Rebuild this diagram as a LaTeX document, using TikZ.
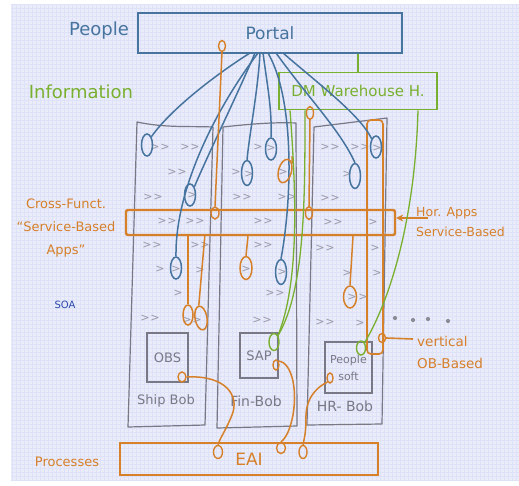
\documentclass[tikz,border=0pt]{standalone}
\usepackage{fontspec}
\setmainfont{DejaVu Sans}
\usetikzlibrary{shapes.geometric,arrows.meta}
\definecolor{bgC}{RGB}{234,236,250}
\definecolor{gridC}{RGB}{222,226,248}
\definecolor{blueC}{RGB}{70,116,158}
\definecolor{greenC}{RGB}{122,176,48}
\definecolor{orangeC}{RGB}{214,128,42}
\definecolor{grayC}{RGB}{120,120,135}
\definecolor{chevC}{RGB}{152,152,168}
\definecolor{soaC}{RGB}{40,70,170}
\newcommand{\myfs}[2]{\fontsize{#1}{#2}\selectfont}
\newcommand{\chevtwo}{>\kern1pt\relax>}
\begin{document}
\begin{tikzpicture}[x=1pt,y=-1pt,
  bloop/.style={ellipse, draw=blueC, line width=1.5pt, inner sep=0pt, minimum width=11pt, minimum height=22pt},
  oloop/.style={ellipse, draw=orangeC, line width=1.5pt, inner sep=0pt, minimum width=11pt, minimum height=21pt},
  osmall/.style={ellipse, draw=orangeC, line width=1.4pt, inner sep=0pt, minimum width=7pt, minimum height=11pt},
  gloop/.style={ellipse, draw=greenC, line width=1.4pt, inner sep=0pt, minimum width=10pt, minimum height=16pt},
  bline/.style={draw=blueC, line width=1.5pt},
  oline/.style={draw=orangeC, line width=1.5pt},
  gline/.style={draw=greenC, line width=1.3pt},
  colshape/.style={draw=grayC, line width=1.2pt, line join=round},
  chev/.style={inner sep=0pt, text=chevC, font=\myfs{11}{11}},
  dotc/.style={circle, fill=grayC!85, inner sep=0pt, minimum size=4.2pt},
  olbl/.style={text=orangeC, inner sep=0pt},
  glbl/.style={text=grayC, inner sep=0pt}
]
\useasboundingbox (0,0) rectangle (519,485);
\fill[bgC] (11,4) rectangle (519,481);
\draw[gridC, line width=0.4pt, step=4pt] (11,4) grid (519,481);

% columns
\draw[colshape] (137,122) .. controls (165,128) and (190,126) .. (213,127) -- (205,425) -- (128,427) -- cycle;
\draw[colshape] (223,127) .. controls (250,124) and (275,122) .. (296,123) -- (297,426) -- (217,428) -- cycle;
\draw[colshape] (314,127) -- (387,118) -- (382,424) -- (307,425) -- cycle;

% chevrons (2 = double, 1 = single)
\foreach \px/\py/\n [count=\i] in {
 160/147/2, 190/147/2, 177/172/2, 153/197/2, 192/195/1, 167/221/2, 195/221/2,
 152/245/2, 200/245/2, 160/269/1, 176/269/1, 200/270/1, 178/293/1, 150/318/2, 192/320/2,
 258/147/1, 271/148/1, 236/172/1, 249/174/1, 283/172/1, 242/197/2, 287/197/2, 263/221/2,
 263/245/2, 246/269/1, 282/272/1, 275/293/2, 262/320/2,
 330/147/2, 360/147/2, 377/148/1, 347/174/1, 330/198/2, 333/222/2, 373/222/1,
 325/248/2, 375/248/1, 347/273/1, 377/273/1, 352/297/1, 363/297/1, 325/322/2, 360/323/1}
  \node[chev] (ch\i) at (\px,\py) {\ifnum\n=2 \chevtwo\else >\fi};

% Portal and people
\node[draw=blueC, line width=1.5pt, minimum width=264pt, minimum height=40pt, inner sep=0pt,
      text=blueC, font=\myfs{17}{20}] (portal) at (270,33) {Portal};
\node[text=blueC, inner sep=0pt, font=\myfs{18}{21}] (people) at (99,31) {People};
\node[text=greenC, inner sep=0pt, font=\myfs{18}{21}] (info) at (81,92) {Information};
\node[draw=greenC, line width=1.6pt, minimum width=158pt, minimum height=37pt, inner sep=0pt,
      text=greenC, font=\myfs{15}{18}] (dm) at (358,91) {DM Warehouse H.};
\draw[gline] (dm.north |- portal.south) -- (dm.north);

% inner boxes
\node[draw=grayC, line width=1.2pt, minimum width=41pt, minimum height=49pt, inner sep=0pt,
      text=grayC, font=\myfs{13}{15}] (obs) at (167.5,357.5) {OBS};
\node[draw=grayC, line width=1.2pt, minimum width=38pt, minimum height=45pt, inner sep=0pt,
      text=grayC, font=\myfs{13}{15}] (sap) at (259,355.5) {SAP};
\node[draw=grayC, line width=1.2pt, minimum width=47pt, minimum height=51pt, inner sep=0pt,
      text=grayC, align=center, font=\myfs{11}{17}] (psoft) at (348.5,367.5) {People\\soft};
\node[glbl, font=\myfs{13}{15}] (shiplbl) at (166,401) {Ship Bob};
\node[glbl, font=\myfs{14}{16}] (finlbl) at (256,401) {Fin-Bob};
\node[glbl, font=\myfs{14}{16}] (hrlbl) at (345,406) {HR- Bob};

% band
\node[draw=orangeC, line width=2.4pt, rounded corners=2pt, minimum width=269pt, minimum height=25pt, inner sep=0pt] (band) at (260.5,222.5) {};
\node[olbl, align=center, font=\myfs{13}{23}] (cross) at (66,228) {Cross-Funct.\\``Service-Based\\Apps''};
\node[olbl, align=left, anchor=west, font=\myfs{12.5}{20}] (hor) at (416,222) {Hor. Apps\\Service-Based};
\coordinate (horarr) at (428,218);
\draw[orangeC, line width=1.7pt, -{Stealth[length=7pt,width=7pt]}] (horarr) -- (band.east |- horarr);

% vertical OB-based
\node[draw=orangeC, line width=1.6pt, rounded corners=4pt, minimum width=16pt, minimum height=234pt, inner sep=0pt] (vrect) at (375,237) {};
\node[osmall, minimum width=7pt, minimum height=9pt] (vloop) at (382,338) {};
\coordinate (vend) at (413,339);
\draw[orangeC, line width=1.6pt] (vloop.east) -- (vend);
\node[olbl, align=left, anchor=west, font=\myfs{13.5}{22}] (vert) at (417,352) {vertical\\OB-Based};
\foreach \px/\py [count=\i] in {395/318, 413/320, 428/319, 448/321}
  \node[dotc] (d\i) at (\px,\py) {};

\node[text=soaC, inner sep=0pt, font=\myfs{10}{12}] (soa) at (65,305) {SOA};

% EAI
\node[draw=orangeC, line width=1.8pt, minimum width=258pt, minimum height=32pt, inner sep=0pt,
      text=orangeC, font=\myfs{17}{20}] (eai) at (249,459) {EAI};
\node[olbl, font=\myfs{13}{15}] (proc) at (67,462) {Processes};

% blue loops and lines
\node[bloop] (lb1) at (147,145) {};
\node[bloop] (lb2) at (190,195) {};
\node[bloop] (lb3) at (176,268) {};
\node[bloop] (lb4) at (271,149) {};
\node[bloop, minimum height=25pt] (lb5) at (247,173) {};
\node[bloop, minimum height=25pt] (lb6) at (281,272) {};
\node[bloop, minimum height=25pt] (lb7) at (355,176) {};
\node[bloop] (lb8) at (376,147) {};
\coordinate (pb1) at (250,53);
\coordinate (pb2) at (255,53);
\coordinate (pb3) at (258,53);
\coordinate (pb4) at (263,53);
\coordinate (pb5) at (260,53);
\coordinate (pb6) at (268,53);
\coordinate (pb7) at (276,53);
\coordinate (pb8) at (283,53);
\draw[bline] (pb1) .. controls (215,75) and (170,110) .. (lb1.north east);
\draw[bline] (pb2) .. controls (235,100) and (210,150) .. (lb2.north east);
\draw[bline] (pb3) .. controls (215,110) and (175,190) .. (lb3.north);
\draw[bline] (pb4) .. controls (268,90) and (272,110) .. (lb4.north);
\draw[bline] (pb5) .. controls (258,90) and (250,130) .. (lb5.north);
\draw[bline] (pb6) .. controls (295,100) and (292,200) .. (lb6.north);
\draw[bline] (pb7) .. controls (310,100) and (340,130) .. (lb7.north);
\draw[bline] (pb8) .. controls (320,85) and (360,115) .. (lb8.north west);

% orange loops and lines
\node[osmall] (ot1) at (222,46) {};
\node[osmall, minimum width=8pt, minimum height=12pt] (ob1) at (215,213) {};
\draw[oline] (ot1.south) -- (ob1.north);
\node[osmall, minimum height=13pt] (ot2) at (310,113) {};
\node[osmall, minimum height=13pt] (ob2) at (309,213) {};
\draw[oline] (ot2.south) -- (ob2.north);
\node[oloop, minimum width=13pt, minimum height=24pt, rotate=-15] (o3) at (285,171) {};
\coordinate (o3tail) at (292,156);
\draw[oline] (o3.north east) -- (o3tail);
\node[oloop, minimum width=10pt, minimum height=20pt] (ol4) at (188,315) {};
\node[oloop, minimum width=12pt, minimum height=24pt, rotate=10] (ol5) at (201,318) {};
\node[oloop, minimum width=12pt, minimum height=23pt] (ol6) at (246,268) {};
\node[oloop, minimum width=13pt, minimum height=22pt] (ol7) at (350,297) {};
\draw[oline] (ol4.north |- band.south) -- (ol4.north);
\draw[oline] ([xshift=6pt]ol5.north |- band.south) -- (ol5.north);
\draw[oline] ([xshift=2pt]ol6.north |- band.south) -- (ol6.north);
\draw[oline] ([xshift=3pt]ol7.north |- band.south) -- (ol7.north);

\node[osmall, minimum width=8pt, minimum height=10pt] (oo) at (182,377) {};
\node[osmall, minimum width=6pt, minimum height=10pt] (os) at (276,365) {};
\node[osmall, minimum width=6pt, minimum height=10pt] (op) at (330,378) {};
\node[osmall, minimum width=9pt, minimum height=13pt] (le1) at (218,452) {};
\node[osmall, minimum width=9pt, minimum height=11pt] (le2) at (281,448) {};
\node[osmall, minimum width=8pt, minimum height=13pt] (le3) at (303,452) {};
\draw[oline] (oo.east) .. controls (225,375) and (240,395) .. (232,415) .. controls (226,430) and (220,438) .. (le1.north);
\draw[oline] (os.north east) .. controls (290,362) and (298,385) .. (293,415) .. controls (290,430) and (286,438) .. (le2.north);
\draw[oline] (op.south west) .. controls (315,388) and (305,400) .. (306,420) .. controls (306,432) and (304,440) .. (le3.north);

% green loops and lines
\node[gloop, minimum width=10pt, minimum height=17pt] (lg1) at (274,342) {};
\node[gloop, minimum width=9pt, minimum height=14pt] (lg2) at (361,348) {};
\draw[gline] ([xshift=-68pt]dm.south) .. controls (296,190) and (300,280) .. (lg1.north east);
\draw[gline] ([xshift=-53pt]dm.south) .. controls (305,200) and (305,290) .. (lg1.north east);
\draw[gline] ([xshift=60pt]dm.south) .. controls (415,220) and (390,300) .. (lg2.north east);
\end{tikzpicture}
\end{document}
